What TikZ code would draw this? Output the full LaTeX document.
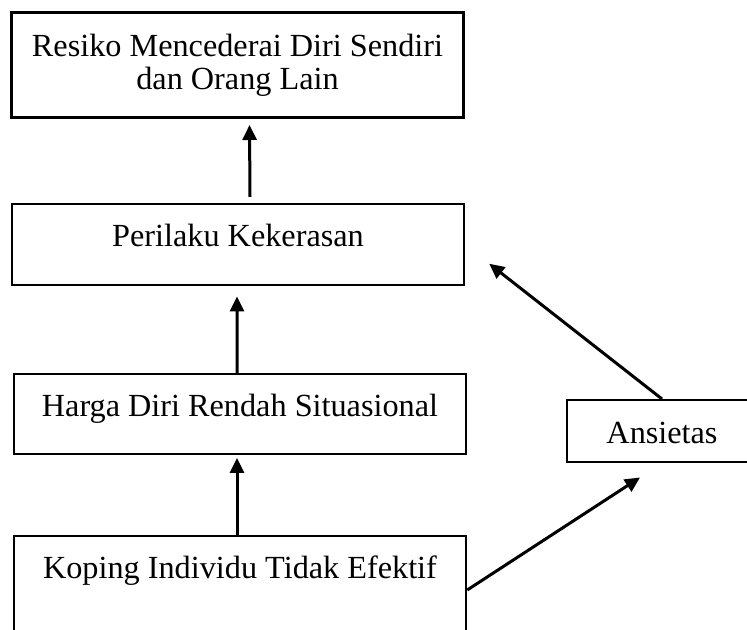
\documentclass[tikz,border=0pt]{standalone}
\usepackage{fontspec}
\setmainfont{Liberation Serif}
\usetikzlibrary{arrows.meta}

\begin{document}
\begin{tikzpicture}[x=0.4pt, y=-0.4pt,
  box/.style={draw, line width=1pt, minimum width=180.8pt,
    inner xsep=0pt, inner ysep=0pt, text height=16.8pt,
    font=\fontsize{12.9}{13.2}\selectfont},
  flow/.style={line width=1.2pt, -{Triangle[length=6pt,width=5.6pt]}}]
  \useasboundingbox (0,0) rectangle (747,630);
  % Top box (thick frame)
  \node[draw, line width=1.2pt, minimum width=180.4pt, minimum height=42pt,
    align=center, font=\fontsize{12.9}{13.2}\selectfont, anchor=north]
    (resiko) at (237.5,11) {Resiko Mencederai Diri Sendiri\\dan Orang Lain};
  % Chain of boxes
  \node[box, anchor=north, text depth=15.6pt] (perilaku) at (238,203)
    {Perilaku Kekerasan};
  \node[box, anchor=north, text depth=15.2pt] (harga) at (240,373)
    {Harga Diri Rendah Situasional};
  \node[box, anchor=north, text depth=27.6pt] (koping) at (240,535)
    {Koping Individu Tidak Efektif};
  % Side box
  \node[box, anchor=north, minimum width=76pt, text height=17.4pt,
    text depth=7.4pt] (ansietas) at (662,399) {Ansietas};
  % Arrows up the chain
  \draw[flow] ([xshift=4.8pt,yshift=2.4pt]perilaku.north)
    -- ([xshift=4.8pt,yshift=-2.4pt]resiko.south);
  \draw[flow] ([xshift=-1.2pt]harga.north)
    -- ([xshift=-0.4pt,yshift=-4pt]perilaku.south);
  \draw[flow] ([xshift=-1.2pt]koping.north)
    -- ([xshift=-1.2pt,yshift=-1pt]harga.south);
  % Arrows through Ansietas
  \draw[flow] ([shift={(0,55)}]koping.north east)
    -- ([shift={(-22,14)}]ansietas.south);
  \draw[flow] (ansietas.north) -- ([shift={(24,19)}]perilaku.east);
\end{tikzpicture}
\end{document}
